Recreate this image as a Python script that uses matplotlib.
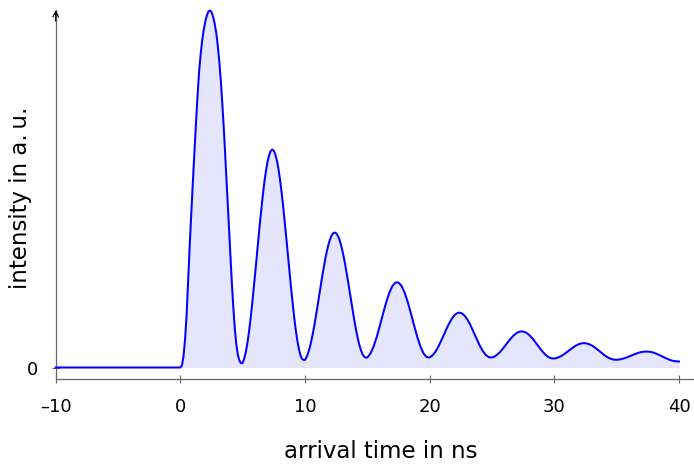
import numpy as np
import matplotlib
matplotlib.use("Agg")
import matplotlib.pyplot as plt

# arrival time (ns) and intensity (a.u.)
t_pre = [-10.0, 0.0]
i_pre = [0.0, 0.0]

# 0 .. 15 ns, read every 0.125 ns (steep first peaks)
fine_step = 0.125
intensity_fine = [
    # 0 .. 5 ns
    0, 2, 11, 28, 52, 87, 122, 154, 185, 215,
    244, 271, 295, 313, 327, 338, 346, 352, 356, 357,
    355.5, 351, 344, 335, 322, 306, 286, 262, 236, 206,
    175, 144, 114, 86, 60, 38, 22, 12, 6.5, 4.3,
    # 5 .. 10 ns
    4.6, 9.1, 15.5, 24.3, 35.2, 47.9, 62.2, 77.7, 94.0, 110.7,
    127.4, 143.8, 159.2, 173.6, 186.4, 197.3, 206.1, 212.6, 216.6, 218.0,
    216.8, 213.0, 206.7, 198.2, 187.4, 174.9, 160.8, 145.6, 129.4, 112.9,
    96.4, 80.3, 65.1, 50.9, 38.3, 27.6, 19.0, 12.6, 8.7, 7.6,
    # 10 .. 15 ns
    7.6, 10.6, 14.5, 19.7, 26.2, 33.8, 42.3, 51.5, 61.2, 71.2,
    81.1, 90.9, 100.0, 108.6, 116.2, 122.7, 127.9, 131.8, 134.2, 135.0,
    134.3, 132.0, 128.3, 123.2, 116.8, 109.4, 101.0, 91.9, 82.4, 72.6,
    62.8, 53.2, 44.1, 35.7, 28.3, 21.9, 16.8, 13.0, 10.7, 9.9,
    10.0,
]

# 15.25 .. 40 ns, read every 0.25 ns
coarse_start = 15.25
coarse_step = 0.25
intensity_coarse = [
    # .. 20 ns
    14.0, 20.9, 30.4, 41.6, 53.4, 64.7, 74.3, 81.3, 85.0, 85.0,
    81.5, 74.6, 65.1, 53.9, 42.1, 30.8, 21.2, 14.2, 10.5, 10.0,
    # .. 25 ns
    12.4, 16.5, 22.2, 28.9, 35.9, 42.6, 48.3, 52.5, 54.7, 54.7,
    52.6, 48.5, 42.9, 36.1, 29.1, 22.4, 16.7, 12.5, 10.3, 10.0,
    # .. 30 ns
    11.3, 13.7, 17.0, 20.9, 25.0, 28.9, 32.2, 34.7, 36.0, 36.0,
    34.8, 32.3, 29.0, 24.9, 20.7, 16.7, 13.2, 10.6, 9.2, 9.0,
    # .. 35 ns
    9.8, 11.1, 13.0, 15.3, 17.7, 20.0, 22.0, 23.5, 24.3, 24.3,
    23.5, 22.1, 20.0, 17.6, 15.0, 12.5, 10.4, 8.8, 7.9, 7.7,
    # .. 40 ns
    8.1, 8.8, 9.8, 11.0, 12.3, 13.6, 14.7, 15.5, 15.9, 15.9,
    15.5, 14.7, 13.5, 12.0, 10.5, 9.0, 7.7, 6.7, 6.2, 6.0,
]

x_ticks = [-10, 0, 10, 20, 30, 40]
y_ticks = [0]

plt.rcParams["font.family"] = ["DejaVu Sans"]

t_fine = np.arange(len(intensity_fine)) * fine_step
t_coarse = coarse_start + np.arange(len(intensity_coarse)) * coarse_step
t_sig = np.concatenate([t_fine, t_coarse])
i_sig = np.concatenate([intensity_fine, intensity_coarse])
t_all = np.concatenate([t_pre[:1], t_sig])
i_all = np.concatenate([i_pre[:1], i_sig])

fig = plt.figure(figsize=(6.94, 4.65), dpi=100)
W, H = 694, 465
left, right, top, bottom = 55.7, 694, 10, 379
ax = fig.add_axes([left / W, 1 - bottom / H, (right - left) / W, (bottom - top) / H])

ax.fill_between(t_sig, 0, i_sig, color="#e5e5fd", linewidth=0, zorder=1)
ax.plot(t_all, i_all, color="#0000ff", linewidth=1.45, zorder=3, clip_on=False)

ax.set_xlim(-10, -10 + (right - left) / 12.466)
ax.set_ylim(-11.5, 357.5)

for s in ["top", "right"]:
    ax.spines[s].set_visible(False)
for s in ["bottom", "left"]:
    ax.spines[s].set_color("#666666")
    ax.spines[s].set_linewidth(0.9)
# arrow tip on the y axis
ax.annotate("", xy=(0, 1), xytext=(0, 0.97), xycoords="axes fraction",
            arrowprops=dict(arrowstyle="->", color="black", lw=0.9,
                            shrinkA=0, shrinkB=0, mutation_scale=10))

ax.set_xticks(x_ticks)
ax.set_xticklabels([str(v).replace("-", "\u2013") for v in x_ticks])
ax.set_yticks(y_ticks)
ax.tick_params(axis="both", direction="inout", length=6, width=0.8,
               color="#666666", labelsize=13, labelcolor="black")
ax.tick_params(axis="x", pad=11)
ax.tick_params(axis="y", pad=10)

fig.text(381 / W, 1 - 451 / H, "arrival time in ns", ha="center", va="center",
         fontsize=16.5)
fig.text(21 / W, 1 - 198 / H, "intensity in a.\u2009u.", ha="center", va="center",
         fontsize=16.5, rotation=90)

fig.savefig("out.png", dpi=100)
